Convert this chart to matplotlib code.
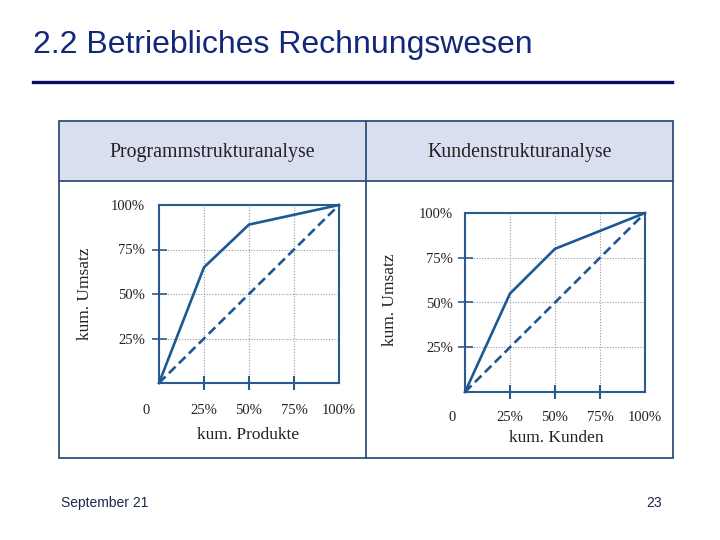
import matplotlib
matplotlib.use("Agg")
import matplotlib.pyplot as plt
from matplotlib.patches import Rectangle
from matplotlib.lines import Line2D
import matplotlib.transforms as mtransforms

# ---- data ----
title = "2.2 Betriebliches Rechnungswesen"
panel_titles = ["Programmstrukturanalyse", "Kundenstrukturanalyse"]
x_labels = ["kum. Produkte", "kum. Kunden"]
y_label = "kum. Umsatz"
x_pts = [0, 25, 50, 100]
prog_cum = [0, 65, 89, 100]
kunden_cum = [0, 55, 80, 100]
diag_x = [0, 100]
diag_y = [0, 100]
tick_vals = [0, 25, 50, 75, 100]
tick_texts = ["", "25%", "50%", "75%", "100%"]
footer_left = "September 21"
footer_right = "23"

W, H = 720, 540
fig = plt.figure(figsize=(7.2, 5.4), dpi=100)
fig.patch.set_facecolor("white")

def fx(x):
    return x / W

def fy(y):
    return 1 - y / H

navy = "#13287a"
border = "#2d5079"
line_c = "#1d5893"
spine_c = "#2b5b8e"
serif = ["Liberation Serif", "DejaVu Serif"]
sans = ["Liberation Sans", "DejaVu Sans"]

# title and rule
fig.text(fx(33), fy(45), title, fontsize=23, color=navy, family=sans,
         ha="left", va="center")
fig.add_artist(Line2D([fx(33), fx(672)], [fy(82), fy(82)], color="#0a0a6a",
                      linewidth=2.4, transform=fig.transFigure))

# table box
fig.add_artist(Rectangle((fx(59), fy(181)), fx(673) - fx(59), fy(121) - fy(181),
                         transform=fig.transFigure, facecolor="#d9dff0",
                         edgecolor="none", zorder=0))
fig.add_artist(Rectangle((fx(59), fy(458)), fx(673) - fx(59), fy(121) - fy(458),
                         transform=fig.transFigure, facecolor="none",
                         edgecolor=border, linewidth=1.3, zorder=3))
fig.add_artist(Line2D([fx(59), fx(673)], [fy(181), fy(181)], color=border,
                      linewidth=1.3, transform=fig.transFigure))
fig.add_artist(Line2D([fx(366), fx(366)], [fy(121), fy(458)], color=border,
                      linewidth=1.3, transform=fig.transFigure))
fig.text(fx(212.5), fy(153), panel_titles[0], fontsize=14.3, family=serif,
         color="#222222", ha="center", va="center")
fig.text(fx(519.5), fy(153), panel_titles[1], fontsize=14.3, family=serif,
         color="#222222", ha="center", va="center")

# footer
fig.text(fx(61), fy(503), footer_left, fontsize=10, family=sans,
         color="#1b2a4a", ha="left", va="center")
fig.text(fx(662), fy(503), footer_right, fontsize=10, family=sans,
         color="#1b2a4a", ha="right", va="center")

panels = [
    # (x0, x1, ytop, ybottom, data, xlabel, ypad, xpad, ylabel_pos, xlabel_pos, zero_y_px)
    (159, 339, 205, 383, prog_cum, x_labels[0], 4.5, 10.5, (-0.411, 0.5), (0.494, -0.292), 410),
    (465, 645, 213, 392, kunden_cum, x_labels[1], 3.0, 9.3, (-0.417, 0.514), (0.506, -0.257), 417),
]

for (x0, x1, yt, yb, vals, xl, ypad, xpad, ylpos, xlpos, zy) in panels:
    ax = fig.add_axes([fx(x0), fy(yb), fx(x1) - fx(x0), fy(yt) - fy(yb)])
    ax.set_xlim(0, 100)
    ax.set_ylim(0, 100)
    ax.plot(x_pts, vals, color=line_c, linewidth=1.9, clip_on=False, zorder=4,
            solid_joinstyle="miter")
    ax.plot(diag_x, diag_y, color=line_c, linewidth=1.9, linestyle=(0, (3.5, 1.8)),
            clip_on=False, zorder=4)
    ax.set_xticks(tick_vals)
    ax.set_xticklabels(tick_texts)
    ax.set_yticks(tick_vals)
    ax.set_yticklabels(tick_texts)
    ax.grid(True, linestyle=(0, (1, 1.5)), color="#9a9a9a", linewidth=0.8)
    ax.set_axisbelow(True)
    ax.tick_params(axis="x", direction="inout", length=9.4, width=1.5,
                   color=spine_c, pad=xpad, labelsize=10.5, labelcolor="#222222")
    ax.tick_params(axis="y", direction="inout", length=10.8, width=1.2,
                   color=spine_c, pad=ypad, labelsize=10.5, labelcolor="#222222")
    for lab in ax.get_xticklabels() + ax.get_yticklabels():
        lab.set_family(serif)
    for i in (0, 4):
        ax.xaxis.get_major_ticks()[i].tick1line.set_visible(False)
        ax.yaxis.get_major_ticks()[i].tick1line.set_visible(False)
    for sp in ax.spines.values():
        sp.set_color(spine_c)
        sp.set_linewidth(1.5)
    # "0" label at origin of x axis (offset left as in original)
    trans = mtransforms.blended_transform_factory(ax.transData, ax.transAxes)
    ax.text(-7.2, (yb - zy) / (yb - yt), "0",
            transform=trans, fontsize=10.5, family=serif, color="#222222",
            ha="center", va="center", clip_on=False)
    ax.set_xlabel(xl, fontsize=12.5, family=serif, color="#222222")
    ax.xaxis.set_label_coords(*xlpos)
    ax.xaxis.label.set_va("center")
    ax.set_ylabel(y_label, fontsize=12.5, family=serif, color="#222222")
    ax.yaxis.set_label_coords(*ylpos)
    ax.yaxis.label.set_va("center")

fig.savefig("out.png", dpi=100, facecolor="white")
